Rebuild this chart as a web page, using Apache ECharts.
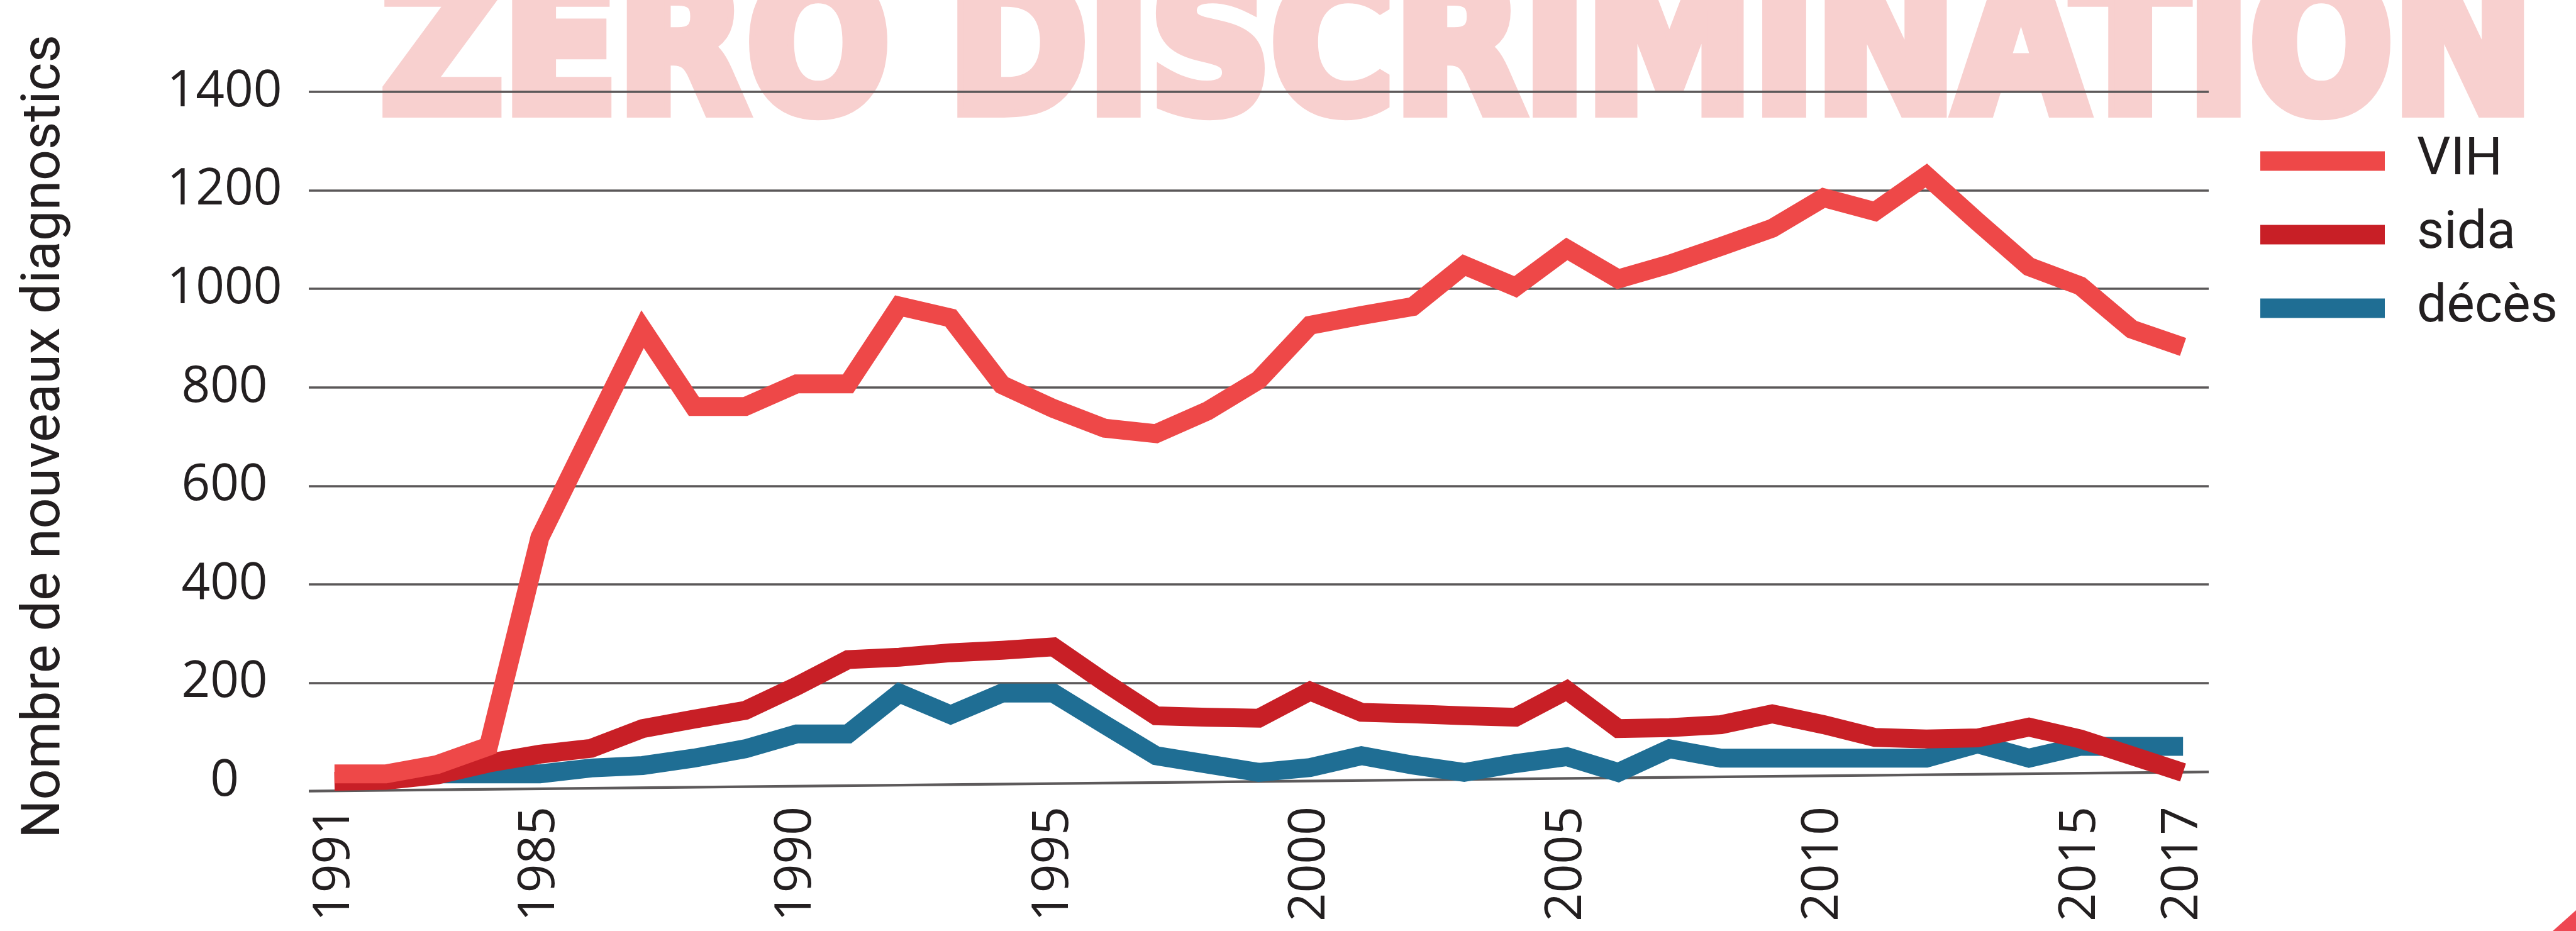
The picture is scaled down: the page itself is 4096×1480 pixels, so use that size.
<!DOCTYPE html>
<html><head><meta charset="utf-8">
<script src="https://cdn.jsdelivr.net/npm/echarts@6/dist/echarts.min.js"></script>
<style>html,body{margin:0;padding:0;background:#fff}#c{width:4096px;height:1480px}</style>
</head><body><div id="c"></div>
<script>
const years = ['1981','1982','1983','1984','1985','1986','1987','1988','1989','1990',
  '1991','1992','1993','1994','1995','1996','1997','1998','1999','2000',
  '2001','2002','2003','2004','2005','2006','2007','2008','2009','2010',
  '2011','2012','2013','2014','2015','2016','2017'];
const vih = [15,15,34,71,495,707,918,761,761,807,807,965,941,805,757,717,706,752,815,926,
  946,964,1048,1004,1081,1020,1050,1086,1123,1185,1157,1230,1136,1045,1006,918,882];
const sida = [0,2,13,37,55,67,107,126,144,193,247,252,261,266,273,201,133,130,128,183,
  140,137,133,130,185,107,109,115,137,115,89,86,88,110,86,52,18];
const deces = [null,null,15,15,15,27,32,47,66,96,96,179,135,179,179,115,52,35,18,28,
  52,33,18,36,50,18,66,47,47,47,47,47,76,47,71,71,71];
const yTickValues = [0,200,400,600,800,1000,1200,1400];
const xLabelYears = ['1981','1985','1990','1995','2000','2005','2010','2015','2017'];
const xLabelTexts = ['1991','1985','1990','1995','2000','2005','2010','2015','2017'];
const seriesNames = ['VIH','sida','décès'];
const seriesColors = ['#EE4848','#C81F26','#1F6E94'];
const yAxisTitle = 'Nombre de nouveaux diagnostics';
const watermarkText = 'ZERO DISCRIMINATION';
const baselineEnds = [-20, 19];

const chart = echarts.init(document.getElementById('c'), null, {renderer:'canvas'});
const txt = '#231F20';
const gridColors = yTickValues.map((v,i)=> i===0 ? 'rgba(0,0,0,0)' : '#5B5859');
const seriesData = [vih, sida, deces];
const zs = [5,4,3];

chart.setOption({
  animation:false,
  backgroundColor:'#ffffff',
  grid:{left:491, right:584, top:146, bottom:238, containLabel:false},
  legend:{
    orient:'vertical', left:3589, top:208,
    itemWidth:198, itemHeight:31, itemGap:31,
    data: seriesNames.map((n,i)=>({name:n, icon:'rect', itemStyle:{color:seriesColors[i]}})),
    textStyle:{fontFamily:'Roboto', fontSize:84, color:txt, padding:[0,0,0,46], lineHeight:86}
  },
  xAxis:{
    type:'category', data:years, boundaryGap:true,
    axisLine:{show:false}, axisTick:{show:false}, splitLine:{show:false},
    axisLabel:{
      rotate:90, margin:40, fontFamily:'Open Sans', fontSize:80, color:txt,
      interval:(idx,val)=> xLabelYears.indexOf(val) >= 0,
      formatter:(val)=> { const k = xLabelYears.indexOf(val); return k>=0 ? xLabelTexts[k] : ''; }
    }
  },
  yAxis:{
    type:'value', min:0, max:1400, interval:200,
    axisLine:{show:false}, axisTick:{show:false},
    splitLine:{show:true, lineStyle:{color:gridColors, width:3.5}},
    axisLabel:{align:'center', margin:134, fontFamily:'Open Sans', fontSize:80, color:txt,
      formatter:(v)=> String(v)},
    name:yAxisTitle, nameLocation:'middle', nameGap:376, nameRotate:90,
    nameTextStyle:{fontFamily:'Roboto', fontSize:86, color:txt}
  },
  graphic:{elements:[
    {id:'wm', type:'text', x:606, y:98, z:-1, scaleX:0.89, silent:true,
     style:{text:watermarkText, font:'bold 300px "DejaVu Sans"', fill:'#F8D0CF',
            stroke:'#F8D0CF', lineWidth:22, lineJoin:'miter', verticalAlign:'middle', align:'left'}},
    {id:'corner', type:'polygon', right:0, bottom:0, z:1, silent:true,
     shape:{points:[[0,33],[37,0],[37,33]]}, style:{fill:'#EE4853'}}
  ]},
  series: seriesNames.map((n,i)=>({
    name:n, type:'line', data:seriesData[i], z:zs[i],
    symbol:'none', smooth:false, connectNulls:false,
    itemStyle:{color:seriesColors[i]},
    lineStyle:{color:seriesColors[i], width:30, join:'miter', miterLimit:3, cap:'butt'}
  }))
});

// slanted baseline drawn through the library's scales
const rect = chart.getModel().getComponent('grid',0).coordinateSystem.getRect();
const yL = chart.convertToPixel({yAxisIndex:0}, baselineEnds[0]);
const yR = chart.convertToPixel({yAxisIndex:0}, baselineEnds[1]);
chart.setOption({graphic:{elements:[
  {id:'base', type:'line', z:1, silent:true,
   shape:{x1:rect.x, y1:yL, x2:rect.x+rect.width, y2:yR},
   style:{stroke:'#5D5A5B', lineWidth:4.4}}
]}});
</script></body></html>
